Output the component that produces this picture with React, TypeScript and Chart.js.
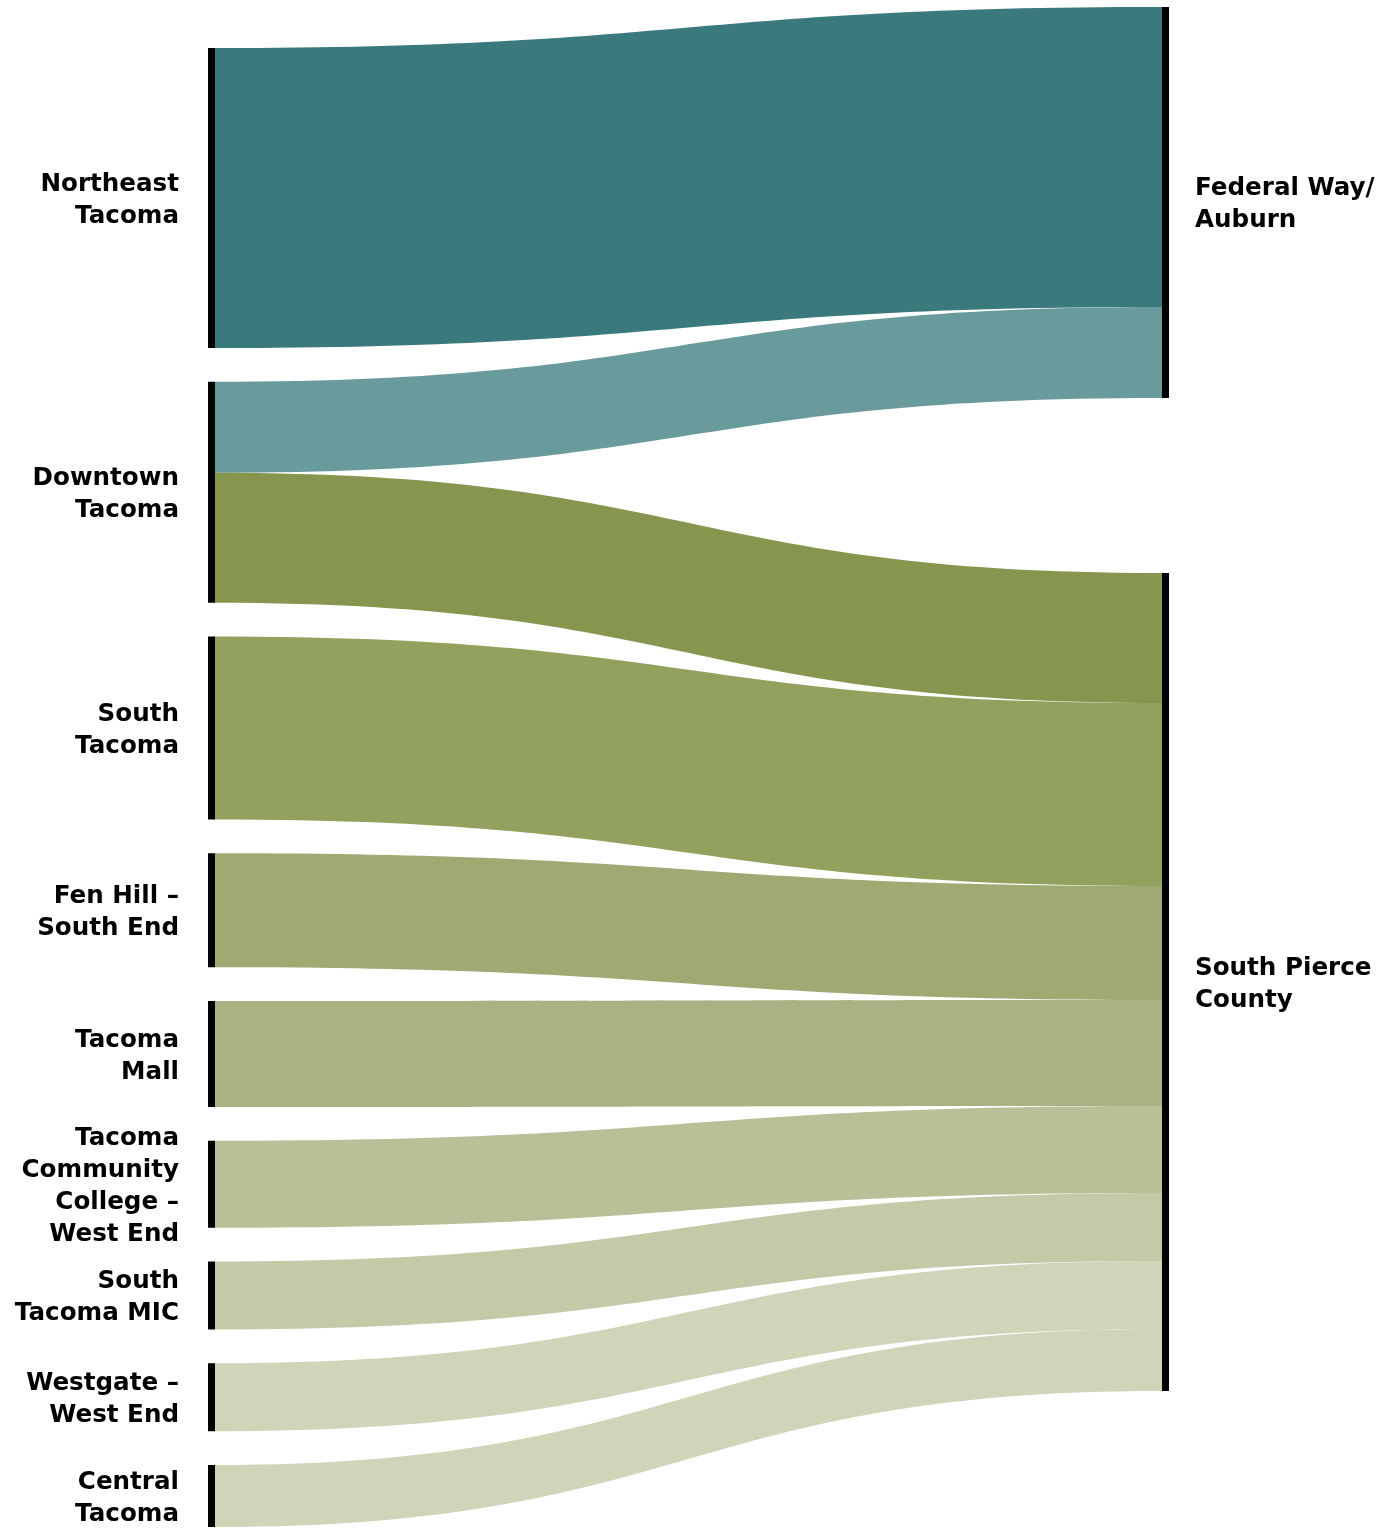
import React, { useEffect, useRef } from "react";
import { Chart, registerables } from "chart.js";

Chart.register(...registerables);

// ---- Data ----
const leftNodes = [
  "Northeast Tacoma",
  "Downtown Tacoma",
  "South Tacoma",
  "Fen Hill – South End",
  "Tacoma Mall",
  "Tacoma Community College – West End",
  "South Tacoma MIC",
  "Westgate – West End",
  "Central Tacoma",
];
const rightNodes = ["Federal Way/Auburn", "South Pierce County"];

const leftLabels = [
  ["Northeast", "Tacoma"],
  ["Downtown", "Tacoma"],
  ["South", "Tacoma"],
  ["Fen Hill –", "South End"],
  ["Tacoma", "Mall"],
  ["Tacoma", "Community", "College –", "West End"],
  ["South", "Tacoma MIC"],
  ["Westgate –", "West End"],
  ["Central", "Tacoma"],
];
const rightLabels = [
  ["Federal Way/", "Auburn"],
  ["South Pierce", "County"],
];

const flowSources = [
  "Northeast Tacoma",
  "Downtown Tacoma",
  "Downtown Tacoma",
  "South Tacoma",
  "Fen Hill – South End",
  "Tacoma Mall",
  "Tacoma Community College – West End",
  "South Tacoma MIC",
  "Westgate – West End",
  "Central Tacoma",
];
const flowTargets = [
  "Federal Way/Auburn",
  "Federal Way/Auburn",
  "South Pierce County",
  "South Pierce County",
  "South Pierce County",
  "South Pierce County",
  "South Pierce County",
  "South Pierce County",
  "South Pierce County",
  "South Pierce County",
];
const flowValues = [300, 91, 130, 183, 114, 106, 87, 68, 68, 62];

const flowColors = [
  "#3a797c",
  "#6a9b9c",
  "#86964e",
  "#93a15f",
  "#9eaa72",
  "#a9b283",
  "#b8c097",
  "#c3caa7",
  "#cfd5b9",
  "#cfd5b9",
];

// ---- Layout constants (value units) ----
const LEFT_TOP = 48;
const LEFT_GAP = 33.75;
const RIGHT_TOP = 7;
const RIGHT_GAP = 175;
const NODE_W = 7;
const FONT = "bold 24.6px 'DejaVu Sans'";
const LINE_H = 32;
const TEXT_DY = 2.5;

function sumFor(name: string, key: "src" | "tgt") {
  let s = 0;
  flowValues.forEach((v, i) => {
    if ((key === "src" ? flowSources[i] : flowTargets[i]) === name) s += v;
  });
  return s;
}

function stack(nodes: string[], key: "src" | "tgt", top: number, gap: number) {
  const pos: Record<string, { y0: number; y1: number }> = {};
  let y = top;
  nodes.forEach((n) => {
    const v = sumFor(n, key);
    pos[n] = { y0: y, y1: y + v };
    y += v + gap;
  });
  return pos;
}

const sankeyPlugin = {
  id: "sankeyDraw",
  afterDatasetsDraw(chart: any) {
    const { ctx, scales } = chart;
    const xs = scales.x;
    const ys = scales.y;
    const leftPos = stack(leftNodes, "src", LEFT_TOP, LEFT_GAP);
    const rightPos = stack(rightNodes, "tgt", RIGHT_TOP, RIGHT_GAP);
    const xL = xs.getPixelForValue(0);
    const xR = xs.getPixelForValue(1);
    const x0 = xL + NODE_W;
    const x1 = xR - NODE_W;
    const xm = (x0 + x1) / 2;
    const srcOff: Record<string, number> = {};
    const tgtOff: Record<string, number> = {};
    ctx.save();
    flowValues.forEach((v, i) => {
      const s = flowSources[i];
      const t = flowTargets[i];
      const so = srcOff[s] || 0;
      const to = tgtOff[t] || 0;
      const sy0 = ys.getPixelForValue(leftPos[s].y0 + so);
      const sy1 = ys.getPixelForValue(leftPos[s].y0 + so + v);
      const ty0 = ys.getPixelForValue(rightPos[t].y0 + to);
      const ty1 = ys.getPixelForValue(rightPos[t].y0 + to + v);
      srcOff[s] = so + v;
      tgtOff[t] = to + v;
      ctx.beginPath();
      ctx.moveTo(x0, sy0);
      ctx.bezierCurveTo(xm, sy0, xm, ty0, x1, ty0);
      ctx.lineTo(x1, ty1);
      ctx.bezierCurveTo(xm, ty1, xm, sy1, x0, sy1);
      ctx.closePath();
      ctx.fillStyle = flowColors[i];
      ctx.fill();
    });
    // nodes
    ctx.fillStyle = "#000";
    leftNodes.forEach((n) => {
      const a = ys.getPixelForValue(leftPos[n].y0);
      const b = ys.getPixelForValue(leftPos[n].y1);
      ctx.fillRect(xL, a, NODE_W, b - a);
    });
    rightNodes.forEach((n) => {
      const a = ys.getPixelForValue(rightPos[n].y0);
      const b = ys.getPixelForValue(rightPos[n].y1);
      ctx.fillRect(xR - NODE_W, a, NODE_W, b - a);
    });
    // labels
    ctx.font = FONT;
    ctx.fillStyle = "#000";
    ctx.textBaseline = "middle";
    ctx.textAlign = "right";
    leftNodes.forEach((n, i) => {
      const c = ys.getPixelForValue((leftPos[n].y0 + leftPos[n].y1) / 2) + TEXT_DY;
      const lines = leftLabels[i];
      const start = c - ((lines.length - 1) * LINE_H) / 2;
      lines.forEach((l, j) => ctx.fillText(l, xL - 29, start + j * LINE_H));
    });
    ctx.textAlign = "left";
    rightNodes.forEach((n, i) => {
      const c = ys.getPixelForValue((rightPos[n].y0 + rightPos[n].y1) / 2) + TEXT_DY;
      const lines = rightLabels[i];
      const start = c - ((lines.length - 1) * LINE_H) / 2;
      lines.forEach((l, j) => ctx.fillText(l, xR + 26, start + j * LINE_H));
    });
    ctx.restore();
  },
};

export default function App() {
  const ref = useRef<HTMLCanvasElement>(null);
  useEffect(() => {
    document.body.style.margin = "0";
    const chart = new Chart(ref.current as HTMLCanvasElement, {
      type: "scatter",
      data: { datasets: [{ data: [] }] },
      options: {
        animation: false,
        responsive: false,
        devicePixelRatio: 1,
        layout: { padding: { left: 208, right: 228, top: 0, bottom: 0 } },
        plugins: { legend: { display: false }, tooltip: { enabled: false } },
        scales: {
          x: { type: "linear", min: 0, max: 1, display: false },
          y: { type: "linear", min: 0, max: 1528, reverse: true, display: false },
        },
      },
      plugins: [sankeyPlugin],
    });
    return () => chart.destroy();
  }, []);
  return (
    <div style={{ position: "absolute", left: 0, top: 0, width: 1397, height: 1528, background: "#fff" }}>
      <canvas ref={ref} width={1397} height={1528} />
    </div>
  );
}
